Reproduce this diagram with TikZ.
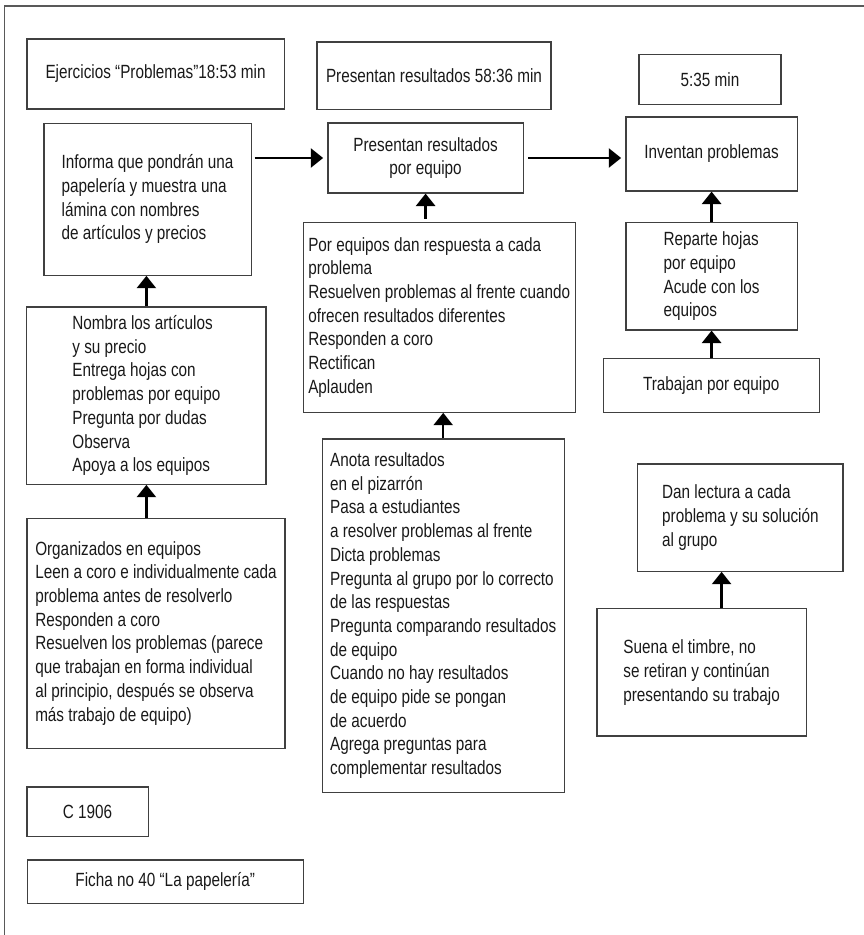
\documentclass[tikz,border=0pt]{standalone}
\usepackage{fontspec}
\setmainfont{Liberation Sans}[FakeStretch=0.8]
\usetikzlibrary{arrows.meta}

\begin{document}
\begin{tikzpicture}[
  every node/.style={draw=black!75, line width=0.9pt, rectangle, align=left,
    inner sep=2pt, text=black!90, font=\fontsize{13.6}{16.85}\selectfont},
  arr/.style={-{Triangle[width=4.8mm,length=3.1mm]}, line width=1.6pt}]
  \useasboundingbox (0,0) rectangle (21.6,-23.375);
  % frame
  \draw[black!65, line width=1pt] (0.11,-23.375) -- (0.11,-0.15) -- (21.6,-0.15);

  % top row: times
  \node[minimum width=6.43cm, minimum height=1.75cm] (ejer) at (3.89,-1.85) {Ejercicios “Problemas”18:53 min};
  \node[minimum width=5.85cm, minimum height=1.68cm] (pres58) at (10.85,-1.89) {Presentan resultados 58:36 min};
  \node[minimum width=3.55cm, minimum height=1.25cm] (t535) at (17.75,-1.98) {5:35 min};

  % left column
  \node[minimum width=5.18cm, minimum height=3.8cm] (informa) at (3.69,-4.98)
    {Informa que pondrán una\\papelería y muestra una\\lámina con nombres\\de artículos y precios};
  \node[minimum width=5.98cm, minimum height=4.43cm] (nombra) at (3.66,-9.89)
    {Nombra los artículos\\y su precio\\Entrega hojas con\\problemas por equipo\\Pregunta por dudas\\Observa\\Apoya a los equipos};
  \node[minimum width=6.45cm, minimum height=5.75cm] (organ) at (3.9,-15.83)
    {Organizados en equipos\\Leen a coro e individualmente cada\\problema antes de resolverlo\\Responden a coro\\Resuelven los problemas (parece\\que trabajan en forma individual\\al principio, después se observa\\más trabajo de equipo)};
  \node[minimum width=3.03cm, minimum height=1.23cm] (c1906) at (2.19,-20.29) {C 1906};
  \node[minimum width=6.9cm, minimum height=1.08cm] (ficha) at (4.13,-22.04) {Ficha no 40 “La papelería”};

  % middle column
  \node[align=center, minimum width=4.88cm, minimum height=1.75cm] (preseq) at (10.64,-3.95)
    {Presentan resultados\\por equipo};
  \node[minimum width=6.8cm, minimum height=4.75cm] (poreq) at (10.98,-7.93)
    {Por equipos dan respuesta a cada\\problema\\Resuelven problemas al frente cuando\\ofrecen resultados diferentes\\Responden a coro\\Rectifican\\Aplauden};
  \node[minimum width=6.05cm, minimum height=8.83cm] (anota) at (11.08,-15.39)
    {Anota resultados\\en el pizarrón\\Pasa a estudiantes\\a resolver problemas al frente\\Dicta problemas\\Pregunta al grupo por lo correcto\\de las respuestas\\Pregunta comparando resultados\\de equipo\\Cuando no hay resultados\\de equipo pide se pongan\\de acuerdo\\Agrega preguntas para\\complementar resultados};

  % right column
  \node[minimum width=4.28cm, minimum height=1.85cm] (inventan) at (17.79,-3.85) {Inventan problemas};
  \node[minimum width=4.28cm, minimum height=2.68cm] (reparte) at (17.79,-6.91)
    {Reparte hojas\\por equipo\\Acude con los\\equipos};
  \node[minimum width=5.4cm, minimum height=1.35cm] (trabajan) at (17.78,-9.63) {Trabajan por equipo};
  \node[minimum width=5.13cm, minimum height=2.68cm] (dan) at (18.51,-12.94)
    {Dan lectura a cada\\problema y su solución\\al grupo};
  \node[minimum width=5.23cm, minimum height=3.18cm] (suena) at (17.54,-16.81)
    {Suena el timbre, no\\se retiran y continúan\\presentando su trabajo};

  % arrows
  \draw[arr] ([xshift=2pt]informa.east |- preseq.west) -- ([xshift=-3pt]preseq.west);
  \draw[arr] ([xshift=3pt]preseq.east) -- ([xshift=-3pt]inventan.west |- preseq.east);
  \draw[arr] (nombra.north) -- (nombra.north |- informa.south);
  \draw[arr] (organ.north -| nombra) -- (nombra.south);
  \draw[arr] ([yshift=2pt]poreq.north -| preseq) -- (preseq.south);
  \draw[arr] (anota.north) -- (anota.north |- poreq.south);
  \draw[arr] (reparte) -- (inventan);
  \draw[arr] (trabajan.north -| reparte) -- (reparte.south);
  \draw[arr] ([xshift=5mm]suena.north) -- ([xshift=5mm]suena.north |- dan.south);
\end{tikzpicture}
\end{document}
